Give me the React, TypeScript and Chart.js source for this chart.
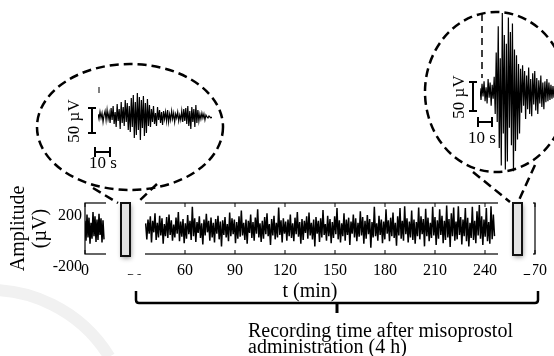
import React, { useEffect, useRef } from 'react';
import { Chart, registerables } from 'chart.js';

Chart.register(...registerables);

const SERIF = "'Liberation Serif', 'Times New Roman', serif";

// ---- main recording (µV), time in minutes ----
const xTickStep = 30;
const xMin = 0;
const xMax = 270;
const yTickValues = [-200, 200];

const segment1Start = 0;
const segment1Step = 0.6;
const segment1 = [60, -95, 110, -70, 85, -120, 45, -80, 130, -60, 95, -105, 70, -90, 115, -50, 80, -110, 65, -85];

const segment2Start = 36.4;
const segment2Step = 0.7;
const segment2 = [
  40, -85, 70, -40, 95, -110, 60, -30, 120, -90, 45, -70, 100, -55, 80, -120, 35, -60, 90, -75,
  110, -50, 65, -95, 30, -70, 85, -40, 130, -100, 55, -65, 75, -115, 40, -80, 105, -45, 60, -90,
  170, -60, 80, -105, 50, -35, 95, -75, 40, -125, 70, -55, 115, -30, 60, -95, 85, -70, 45, -110,
  75, -40, 100, -85, 55, -140, 65, -50, 90, -70, 35, -100, 125, -60, 80, -45, 70, -115, 50, -80,
  95, -65, 140, -55, 45, -90, 70, -120, 60, -35, 110, -75, 50, -95, 85, -40, 150, -70, 40, -105,
  60, -80, 90, -45, 120, -60, 35, -130, 75, -55, 100, -85, 45, -70, 165, -50, 65, -110, 80, -40,
  55, -95, 70, -60, 110, -75, 40, -100, 85, -45, 130, -65, 50, -120, 75, -90, 60, -35, 95, -80,
  125, -55, 45, -85, 70, -140, 90, -40, 60, -105, 80, -70, 145, -50, 35, -95, 100, -60, 75, -115,
  50, -75, 95, -45, 160, -85, 65, -110, 40, -60, 120, -95, 70, -50, 85, -130, 55, -40, 110, -70,
  80, -100, 45, -65, 135, -55, 90, -120, 60, -80, 105, -45, 75, -150, 50, -70, 170, -60, 40, -95,
  100, -50, 70, -115, 55, -85, 150, -40, 65, -100, 85, -60, 125, -75, 45, -135, 95, -55, 160, -80,
  60, -95, 175, -45, 80, -110, 55, -70, 140, -90, 70, -120, 50, -60, 165, -85, 95, -45, 75, -140,
  155, -60, 85, -100, 45, -75, 170, -55, 90, -130, 65, -80, 150, -50, 100, -115, 60, -90, 180, -70,
  75, -145, 120, -60, 165, -95, 55, -85, 175, -50, 90, -125, 70, -60, 160, -100, 85, -140, 45, -75,
  170, -90, 60, -115, 135, -55, 185, -80, 95, -130, 70, -65, 160, -100, 50, -120, 175, -85, 110, -60,
];

// ---- zoom A (early contraction), µV, time in s ----
const zoomAStep = 0.667;
const zoomA = [
  6, -4, 10, -2, 8, -10, 4, 12, -6, 14, -4, 8,
  -12, 18, -6, 22, -14, 10, -20, 26, -8, 16, -24, 30, -12, 20, -18, 34, -10, 28, -26, 22,
  -30, 38, -20, 44, -42, 30, -36, 48, -26, 40, -46, 34, -22, 42, -38, 28, -32, 36, -18, 24,
  -20, 16, -10, 22, -14, 8, -18, 20, -6, 14, -12, 10, -16, 12, -4, 10, -8, 14, -10, 6,
  -6, 12, -4, 8, -10, 6, -2, 10, -8, 4, -6, 12, -10, 16, -8, 18, -14,
  22, -18, 12, -24, 20, -10, 16, -20, 24, -12, 14, -8, 6,
  -4, 8, -2, 6, -6, 4, 0, -2, 2, 0, -2, 0,
];

// ---- zoom B (late contraction), µV, time in s ----
const zoomBStep = 0.714;
const zoomB = [
  8, -12, 16, -6, 20, -14, 10, -18, 24, -8, 18, -22, 14, -10, 28,
  -36, 70, -50, 115, -95, 60, -125, 138, -70, 100, -132, 85, -118, 130, -60, 105, -90, 120, -135, 75, -100, 65, -80, 50, -70,
  42, -34, 48, -22, 38, -45, 30, -28, 44, -36, 24, -40, 34, -20, 38, -30, 26, -36, 22, -18, 30, -24, 18, -28, 20, -16, 24, -14, 18, -12,
  14, -10, 12, -8,
];

const toPoints = (vals: number[], start: number, step: number) =>
  vals.map((v, i) => ({ x: start + i * step, y: v }));

function text(ctx: CanvasRenderingContext2D, s: string, x: number, y: number, size: number, align: CanvasTextAlign = 'center', rot = 0) {
  ctx.save();
  ctx.font = `${size}px ${SERIF}`;
  ctx.fillStyle = '#000';
  ctx.textAlign = align;
  ctx.textBaseline = 'middle';
  ctx.translate(x, y);
  if (rot) ctx.rotate(rot);
  ctx.fillText(s, 0, 0);
  ctx.restore();
}

function seg(ctx: CanvasRenderingContext2D, x1: number, y1: number, x2: number, y2: number) {
  ctx.beginPath();
  ctx.moveTo(x1, y1);
  ctx.lineTo(x2, y2);
  ctx.stroke();
}

function scaleBars(ctx: CanvasRenderingContext2D, ix: number, iy1: number, iy2: number, hx1: number, hx2: number, hy: number) {
  ctx.save();
  ctx.strokeStyle = '#000';
  ctx.lineWidth = 2;
  ctx.setLineDash([]);
  seg(ctx, ix, iy1, ix, iy2);
  seg(ctx, ix - 4, iy1, ix + 4, iy1);
  seg(ctx, ix - 4, iy2, ix + 4, iy2);
  seg(ctx, hx1, hy, hx2, hy);
  seg(ctx, hx1, hy - 5, hx1, hy + 5);
  seg(ctx, hx2, hy - 5, hx2, hy + 5);
  ctx.restore();
}

function markerRect(ctx: CanvasRenderingContext2D, x: number, y: number, w: number, h: number) {
  ctx.save();
  ctx.shadowColor = 'rgba(0,0,0,0.45)';
  ctx.shadowBlur = 5;
  ctx.shadowOffsetX = 1;
  ctx.shadowOffsetY = 2;
  ctx.fillStyle = '#e4e4e4';
  ctx.fillRect(x, y, w, h);
  ctx.shadowColor = 'transparent';
  ctx.strokeStyle = '#111';
  ctx.lineWidth = 2;
  ctx.strokeRect(x, y, w, h);
  ctx.restore();
}

const decorPlugin = {
  id: 'decor',
  beforeDraw(chart: any) {
    const { ctx } = chart;
    ctx.save();
    ctx.strokeStyle = '#f1f1f1';
    ctx.lineWidth = 12;
    ctx.beginPath();
    ctx.arc(-10, 430, 140, -Math.PI / 2 - 0.1, -0.55);
    ctx.stroke();
    ctx.restore();
  },
  afterDatasetsDraw(chart: any) {
    const { ctx, chartArea: a, scales } = chart;
    ctx.save();
    ctx.strokeStyle = '#000';
    ctx.lineWidth = 1.2;
    ctx.strokeRect(a.left, a.top, a.right - a.left, a.bottom - a.top);
    ctx.lineWidth = 1;
    for (const t of scales.x.ticks) {
      const px = scales.x.getPixelForValue(t.value);
      seg(ctx, px, a.bottom, px, a.bottom - 4);
      seg(ctx, px, a.top, px, a.top + 4);
    }
    ctx.restore();
  },
  afterDraw(chart: any) {
    const { ctx } = chart;
    ctx.save();
    // blanked-out regions of the recording
    ctx.fillStyle = '#fff';
    ctx.fillRect(106, 190, 39, 84);
    ctx.fillRect(498, 190, 35, 84);

    // selection markers
    markerRect(ctx, 121, 203, 9, 53);
    markerRect(ctx, 513, 203, 9, 52);

    // dashed magnifier ellipses + connectors
    ctx.strokeStyle = '#000';
    ctx.lineWidth = 2.5;
    ctx.setLineDash([9, 5]);
    ctx.beginPath();
    ctx.ellipse(130, 127, 93, 63, 0, 0, Math.PI * 2);
    ctx.stroke();
    ctx.beginPath();
    ctx.ellipse(496, 92, 71, 80, 0, 0, Math.PI * 2);
    ctx.stroke();
    seg(ctx, 93, 188, 118, 203);
    seg(ctx, 157, 184, 139, 201);
    seg(ctx, 473, 172, 510, 202);
    seg(ctx, 535, 165, 519, 200);

    ctx.lineWidth = 1.5;
    ctx.setLineDash([7, 5]);
    seg(ctx, 482, 14, 482, 78);
    ctx.setLineDash([]);
    ctx.lineWidth = 1;
    seg(ctx, 99, 87, 99, 93);

    // scale bars and labels of the zooms
    scaleBars(ctx, 92, 108, 133, 95, 110, 152);
    text(ctx, '50 µV', 75, 121, 17, 'center', -Math.PI / 2);
    text(ctx, '10 s', 103, 164, 17);
    scaleBars(ctx, 473, 82, 111, 478, 492, 122);
    text(ctx, '50 µV', 460, 97, 17, 'center', -Math.PI / 2);
    text(ctx, '10 s', 482, 139, 17);

    // brace
    ctx.lineWidth = 2.5;
    ctx.beginPath();
    ctx.moveTo(136, 291);
    ctx.lineTo(136, 300);
    ctx.quadraticCurveTo(136, 303, 139, 303);
    ctx.lineTo(535, 303);
    ctx.quadraticCurveTo(538, 303, 538, 300);
    ctx.lineTo(538, 291);
    ctx.stroke();
    ctx.lineWidth = 3;
    seg(ctx, 337, 303, 337, 313);

    text(ctx, 'Recording time after misoprostol', 248, 332, 20, 'left');
    text(ctx, 'administration (4 h)', 248, 348, 20, 'left');
    ctx.restore();
  },
};

function insetConfig(vals: number[], step: number, yLim: number): any {
  return {
    type: 'line',
    data: {
      datasets: [{
        data: toPoints(vals, 0, step),
        borderColor: '#000',
        borderWidth: 1.2,
        pointRadius: 0,
        tension: 0,
        clip: false,
      }],
    },
    options: {
      responsive: false,
      animation: false,
      layout: { padding: 0 },
      scales: {
        x: { type: 'linear', display: false, min: 0, max: (vals.length - 1) * step },
        y: { display: false, min: -yLim, max: yLim },
      },
      plugins: { legend: { display: false }, tooltip: { enabled: false } },
    },
  };
}

export default function App() {
  const mainRef = useRef<HTMLCanvasElement>(null);
  const aRef = useRef<HTMLCanvasElement>(null);
  const bRef = useRef<HTMLCanvasElement>(null);

  useEffect(() => {
    const tickFont = { family: SERIF, size: 16 };
    const main = new Chart(mainRef.current!, {
      type: 'line',
      data: {
        datasets: [
          { data: toPoints(segment1, segment1Start, segment1Step), borderColor: '#000', borderWidth: 1.5, pointRadius: 0, tension: 0 },
          { data: toPoints(segment2, segment2Start, segment2Step), borderColor: '#000', borderWidth: 1.5, pointRadius: 0, tension: 0 },
        ],
      },
      options: {
        responsive: false,
        animation: false,
        layout: { padding: { left: 0, top: 203, right: 17, bottom: 52 } },
        scales: {
          x: {
            type: 'linear',
            min: xMin,
            max: xMax,
            afterFit: (s: any) => { s.height = 50; },
            ticks: { stepSize: xTickStep, autoSkip: false, maxRotation: 0, padding: 7, color: '#000', font: tickFont },
            grid: { display: false, drawTicks: false },
            border: { display: false },
            title: { display: true, text: 't (min)', color: '#000', font: { family: SERIF, size: 20, lineHeight: 1.2 }, padding: 0 },
          },
          y: {
            min: yTickValues[0],
            max: yTickValues[1],
            afterFit: (s: any) => { s.width = 85; },
            afterBuildTicks: (s: any) => { s.ticks = yTickValues.map((v) => ({ value: v })); },
            ticks: { labelOffset: 13, padding: 3, color: '#000', font: tickFont },
            grid: { display: false, drawTicks: false },
            border: { display: false },
            title: { display: true, text: ['Amplitude', '(µV)'], color: '#000', font: { family: SERIF, size: 20, lineHeight: 1.1 }, padding: { top: 8, bottom: 0 } },
          },
        },
        plugins: { legend: { display: false }, tooltip: { enabled: false } },
      } as any,
      plugins: [decorPlugin],
    });
    const a = new Chart(aRef.current!, insetConfig(zoomA, zoomAStep, 120));
    const b = new Chart(bRef.current!, insetConfig(zoomB, zoomBStep, 150));
    return () => { main.destroy(); a.destroy(); b.destroy(); };
  }, []);

  return (
    <div style={{ position: 'absolute', left: 0, top: 0, width: 554, height: 356, overflow: 'hidden', background: '#fff' }}>
      <canvas ref={mainRef} width={554} height={356} style={{ position: 'absolute', left: 0, top: 0 }} />
      <canvas ref={aRef} width={114} height={120} style={{ position: 'absolute', left: 98, top: 57, width: 114, height: 120 }} />
      <canvas ref={bRef} width={74} height={174} style={{ position: 'absolute', left: 480, top: 6, width: 74, height: 174 }} />
    </div>
  );
}
